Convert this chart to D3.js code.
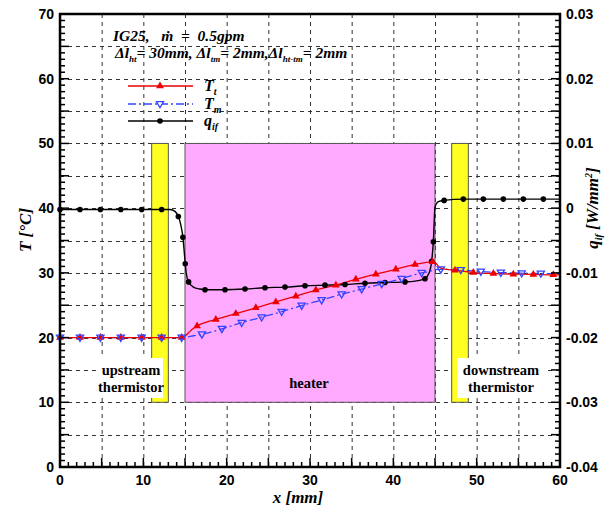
<!DOCTYPE html>
<html><head><meta charset="utf-8">
<script src="https://cdn.jsdelivr.net/npm/d3@7"></script>
<style>body{margin:0;background:#fff} svg{display:block}</style>
</head><body><svg id="c" width="612" height="514"></svg>
<script>
// ---------- data ----------
const xTickVals = [0, 10, 20, 30, 40, 50, 60];
const yLeftTickVals = [0, 10, 20, 30, 40, 50, 60, 70];
const yRightTickVals = [-0.04, -0.03, -0.02, -0.01, 0, 0.01, 0.02, 0.03];
const yRightTickLabels = ["-0.04", "-0.03", "-0.02", "-0.01", "0", "0.01", "0.02", "0.03"];

// component regions (x in mm, T in °C)
const regionNames = ["upstream thermistor", "heater", "downstream thermistor"];
const regionX0 = [11, 15, 47];
const regionX1 = [13, 45, 49];
const regionT0 = [10, 10, 10];
const regionT1 = [50, 50, 50];

// T_t (°C)
const ttX = [0, 14.6, 15.0, 15.4, 15.8, 16.45, 17.5, 18.7, 21.1, 23.5, 25.9, 28.3, 30.7, 33.1, 35.5, 37.9, 40.3, 42.6, 44.7, 45.1, 45.5, 46.0, 47.4, 49.6, 52.0, 54.4, 56.8, 59.2, 60];
const ttY = [20, 20, 20.25, 20.7, 21.2, 21.8, 22.35, 22.8, 23.7, 24.6, 25.5, 26.4, 27.35, 28.1, 29.0, 29.8, 30.55, 31.3, 31.7, 31.5, 30.9, 30.6, 30.4, 30.05, 29.9, 29.8, 29.75, 29.7, 29.7];
const ttMarkX = [0, 2.4, 4.85, 7.3, 9.8, 12.2, 14.6, 16.45, 18.7, 21.1, 23.5, 25.9, 28.3, 30.7, 33.1, 35.5, 37.9, 40.3, 42.6, 44.7, 47.4, 49.6, 52.0, 54.4, 56.8, 59.2];
const ttMarkY = [20, 20, 20, 20, 20, 20, 20, 21.8, 22.8, 23.7, 24.6, 25.5, 26.4, 27.35, 28.1, 29.0, 29.8, 30.55, 31.3, 31.7, 30.4, 30.05, 29.9, 29.8, 29.75, 29.7];

// T_m (°C)
const tmX = [0, 14.6, 15.0, 15.5, 16.0, 17.03, 19.43, 21.8, 24.2, 26.6, 29.0, 31.4, 33.8, 36.2, 38.6, 41.0, 43.4, 44.5, 45.0, 45.7, 48.1, 50.5, 52.9, 55.4, 57.7, 60];
const tmY = [20, 20, 20.05, 20.15, 20.28, 20.5, 21.35, 22.3, 23.15, 24.0, 24.95, 25.8, 26.7, 27.5, 28.3, 29.1, 30.0, 30.3, 30.5, 30.55, 30.45, 30.2, 30.05, 29.95, 29.9, 29.85];
const tmMarkX = [0, 2.4, 4.85, 7.3, 9.8, 12.2, 14.6, 17.03, 19.43, 21.8, 24.2, 26.6, 29.0, 31.4, 33.8, 36.2, 38.6, 41.0, 43.4, 45.7, 48.1, 50.5, 52.9, 55.4, 57.7];
const tmMarkY = [20, 20, 20, 20, 20, 20, 20, 20.5, 21.35, 22.3, 23.15, 24.0, 24.95, 25.8, 26.7, 27.5, 28.3, 29.1, 30.0, 30.55, 30.45, 30.2, 30.05, 29.95, 29.9];

// q_if (W/mm^2)
const qX = [0, 13.2, 13.8, 14.2, 14.5, 14.75, 15.03, 15.15, 15.43, 16.0, 16.8, 17.4, 19.8, 22.2, 24.6, 27.0, 29.4, 31.8, 34.2, 36.6, 39.0, 41.4, 43.0, 43.8, 44.3, 44.6, 44.8, 45.0, 45.4, 46.1, 48.4, 60];
const qY = [-0.0002, -0.0002, -0.0005, -0.0013, -0.0026, -0.0045, -0.0086, -0.0101, -0.0114, -0.0122, -0.0125, -0.0126, -0.0126, -0.0125, -0.0123, -0.0122, -0.0120, -0.0119, -0.0118, -0.0116, -0.0115, -0.0114, -0.0112, -0.0109, -0.0100, -0.0082, -0.0052, 0.0002, 0.0010, 0.0012, 0.0014, 0.0014];
const qMarkX = [0, 2.4, 4.85, 7.3, 9.8, 12.2, 14.2, 14.75, 15.03, 15.43, 17.4, 19.8, 22.2, 24.6, 27.0, 29.4, 31.8, 34.2, 36.6, 39.0, 41.4, 43.8, 44.6, 44.8, 46.1, 48.4, 50.8, 53.2, 55.6, 58.0];
const qMarkY = [-0.0002, -0.0002, -0.0002, -0.0002, -0.0002, -0.0002, -0.0013, -0.0045, -0.0086, -0.0114, -0.0126, -0.0126, -0.0125, -0.0123, -0.0122, -0.0120, -0.0119, -0.0118, -0.0116, -0.0115, -0.0114, -0.0109, -0.0082, -0.0052, 0.0012, 0.0014, 0.0014, 0.0014, 0.0014, 0.0014];

// ---------- layout ----------
const L = 60, R = 560, T = 14, B = 467;
const svg = d3.select("#c");
const x = d3.scaleLinear().domain([0, 60]).range([L, R]);
const yL = d3.scaleLinear().domain([0, 70]).range([B, T]);
const yR = d3.scaleLinear().domain([-0.04, 0.03]).range([B, T]);
const serif = "'Liberation Serif','Times New Roman',serif";
const sans = "'Liberation Sans',Arial,sans-serif";

// gridlines
const g = svg.append("g").attr("stroke", "#333").attr("stroke-width", 1).attr("stroke-dasharray", "4,4");
g.selectAll("line.v").data(d3.range(5, 60, 5)).enter().append("line")
  .attr("x1", d => x(d) + 0.5).attr("x2", d => x(d) + 0.5).attr("y1", T).attr("y2", B);
g.selectAll("line.h").data(d3.range(5, 70, 5)).enter().append("line")
  .attr("y1", d => Math.round(yL(d)) + 0.5).attr("y2", d => Math.round(yL(d)) + 0.5).attr("x1", L).attr("x2", R);

// regions
const regFill = ["#ffff22", "#ffaaff", "#ffff22"];
svg.append("g").selectAll("rect").data(regionNames).enter().append("rect")
  .attr("x", (d, i) => x(regionX0[i])).attr("width", (d, i) => x(regionX1[i]) - x(regionX0[i]))
  .attr("y", (d, i) => yL(regionT1[i])).attr("height", (d, i) => yL(regionT0[i]) - yL(regionT1[i]))
  .attr("fill", (d, i) => regFill[i]).attr("stroke", "#555").attr("stroke-width", 1);

// region labels
function label2(cx, y1, lines, box) {
  if (box) svg.append("rect").attr("x", box[0]).attr("y", box[1]).attr("width", box[2]).attr("height", box[3]).attr("fill", "#fff");
  lines.forEach((t, k) => svg.append("text").attr("x", cx).attr("y", y1 + k * 17).attr("text-anchor", "middle")
    .attr("font-family", serif).attr("font-weight", "bold").attr("font-size", 14.5).text(t));
}
label2(131, 375, ["upstream", "thermistor"], [100, 358, 63, 40]);
label2(501, 375, ["downstream", "thermistor"], [457, 358, 88, 40]);
label2(309, 388, ["heater"], null);

// lines
const lineL = d3.line().x(d => x(d[0])).y(d => yL(d[1])).curve(d3.curveMonotoneX);
const lineR = d3.line().x(d => x(d[0])).y(d => yR(d[1])).curve(d3.curveMonotoneX);
const zip = (a, b) => a.map((v, i) => [v, b[i]]);

svg.append("path").attr("d", lineR(zip(qX, qY))).attr("fill", "none").attr("stroke", "#000").attr("stroke-width", 1.4);
svg.append("path").attr("d", lineL(zip(tmX, tmY))).attr("fill", "none").attr("stroke", "#3344ff").attr("stroke-width", 1.3).attr("stroke-dasharray", "8,3,2,3");
svg.append("path").attr("d", lineL(zip(ttX, ttY))).attr("fill", "none").attr("stroke", "#ee0000").attr("stroke-width", 1.3);

const triUp = d3.symbol().type(d3.symbolTriangle).size(26)();
const triDn = "M-3.6,-2.4L3.6,-2.4L0,3.8Z";
svg.append("g").selectAll("circle").data(zip(qMarkX, qMarkY)).enter().append("circle")
  .attr("cx", d => x(d[0])).attr("cy", d => yR(d[1])).attr("r", 2.8).attr("fill", "#000");
svg.append("g").selectAll("path").data(zip(ttMarkX, ttMarkY)).enter().append("path")
  .attr("d", triUp).attr("transform", d => `translate(${x(d[0])},${yL(d[1])})`).attr("fill", "#ee0000");
svg.append("g").selectAll("path").data(zip(tmMarkX, tmMarkY)).enter().append("path")
  .attr("d", triDn).attr("transform", d => `translate(${x(d[0])},${yL(d[1])})`).attr("fill", "none").attr("stroke", "#3344ff").attr("stroke-width", 1.3);

// frame
svg.append("rect").attr("x", L).attr("y", T).attr("width", R - L).attr("height", B - T).attr("fill", "none").attr("stroke", "#000").attr("stroke-width", 2.5);

// ticks
const tk = svg.append("g").attr("stroke", "#000").attr("stroke-width", 1.5);
d3.range(0, 71, 1).forEach(v => {
  const len = v % 5 === 0 ? 9 : 5;
  tk.append("line").attr("x1", L).attr("x2", L + len).attr("y1", yL(v)).attr("y2", yL(v));
});
d3.range(-40, 31, 1).forEach(v => {
  const len = v % 5 === 0 ? 9 : 5;
  tk.append("line").attr("x1", R).attr("x2", R - len).attr("y1", yR(v / 1000)).attr("y2", yR(v / 1000));
});
d3.range(0, 61, 1).forEach(v => {
  const len = v % 5 === 0 ? 9 : 5;
  tk.append("line").attr("x1", x(v)).attr("x2", x(v)).attr("y1", B).attr("y2", B - len);
});

// tick labels
const lab = svg.append("g").attr("font-family", sans).attr("font-weight", "bold").attr("font-size", 14).attr("fill", "#000");
yLeftTickVals.forEach(v => lab.append("text").attr("x", L - 6).attr("y", yL(v) + 5).attr("text-anchor", "end").text(v));
yRightTickVals.forEach((v, i) => lab.append("text").attr("x", R + 6).attr("y", yR(v) + 5).attr("text-anchor", "start").text(yRightTickLabels[i]));
xTickVals.forEach(v => lab.append("text").attr("x", x(v)).attr("y", B + 18).attr("text-anchor", "middle").text(v));

// axis titles
const ti = { "font-family": serif, "font-weight": "bold", "font-style": "italic", "font-size": 17 };
function styl(sel, o) { Object.entries(o).forEach(([k, v]) => sel.attr(k, v)); return sel; }
styl(svg.append("text"), ti).attr("x", 298).attr("y", 503).attr("text-anchor", "middle").text("x [mm]");
styl(svg.append("text"), ti).attr("transform", "translate(31,230) rotate(-90)").attr("text-anchor", "middle").text("T [°C]");
const rt = styl(svg.append("text"), ti).attr("transform", "translate(598,208) rotate(-90)").attr("text-anchor", "middle");
rt.append("tspan").text("q");
rt.append("tspan").attr("font-size", 10).attr("dy", 4).text("if");
rt.append("tspan").attr("dy", -4).text(" [W/mm");
rt.append("tspan").attr("font-size", 10).attr("dy", -6).text("2");
rt.append("tspan").attr("dy", 6).text("]");

// annotation
const an = { "font-family": serif, "font-weight": "bold", "font-style": "italic", "font-size": 15.5 };
styl(svg.append("text"), an).attr("x", 113).attr("y", 41).attr("xml:space", "preserve").text("IG25,   ṁ  =  0.5gpm");
const a2 = styl(svg.append("text"), an).attr("x", 115).attr("y", 58).attr("xml:space", "preserve");
[["Δl", ""], ["ht", "s"], ["= 30mm, Δl", ""], ["tm", "s"], ["= 2mm,Δl", ""], ["ht-tm", "s"], ["= 2mm", ""]].forEach(([t, s]) => {
  const ts = a2.append("tspan").text(t);
  if (s) ts.attr("font-size", 9).attr("dy", 4); else ts.attr("dy", a2.selectAll("tspan").size() > 1 ? -4 : 0);
});

// legend
const lg = [
  { name: "T", sub: "t", y: 86, color: "#ee0000", dash: null, mk: "up" },
  { name: "T", sub: "m", y: 104, color: "#3344ff", dash: "8,3,2,3", mk: "dn" },
  { name: "q", sub: "if", y: 121, color: "#000", dash: null, mk: "c" }
];
lg.forEach(e => {
  const ln = svg.append("line").attr("x1", 128).attr("x2", 193).attr("y1", e.y).attr("y2", e.y).attr("stroke", e.color).attr("stroke-width", 1.3);
  if (e.dash) ln.attr("stroke-dasharray", e.dash);
  if (e.mk === "up") svg.append("path").attr("d", triUp).attr("transform", `translate(160,${e.y})`).attr("fill", e.color);
  if (e.mk === "dn") svg.append("path").attr("d", triDn).attr("transform", `translate(160,${e.y})`).attr("fill", "#fff").attr("stroke", e.color).attr("stroke-width", 1.3);
  if (e.mk === "c") svg.append("circle").attr("cx", 160).attr("cy", e.y).attr("r", 2.8).attr("fill", e.color);
  const t = styl(svg.append("text"), { ...an, "font-size": 16 }).attr("x", 204).attr("y", e.y + 5);
  t.append("tspan").text(e.name);
  t.append("tspan").attr("font-size", 10).attr("dy", 4).text(e.sub);
});
</script></body></html>
